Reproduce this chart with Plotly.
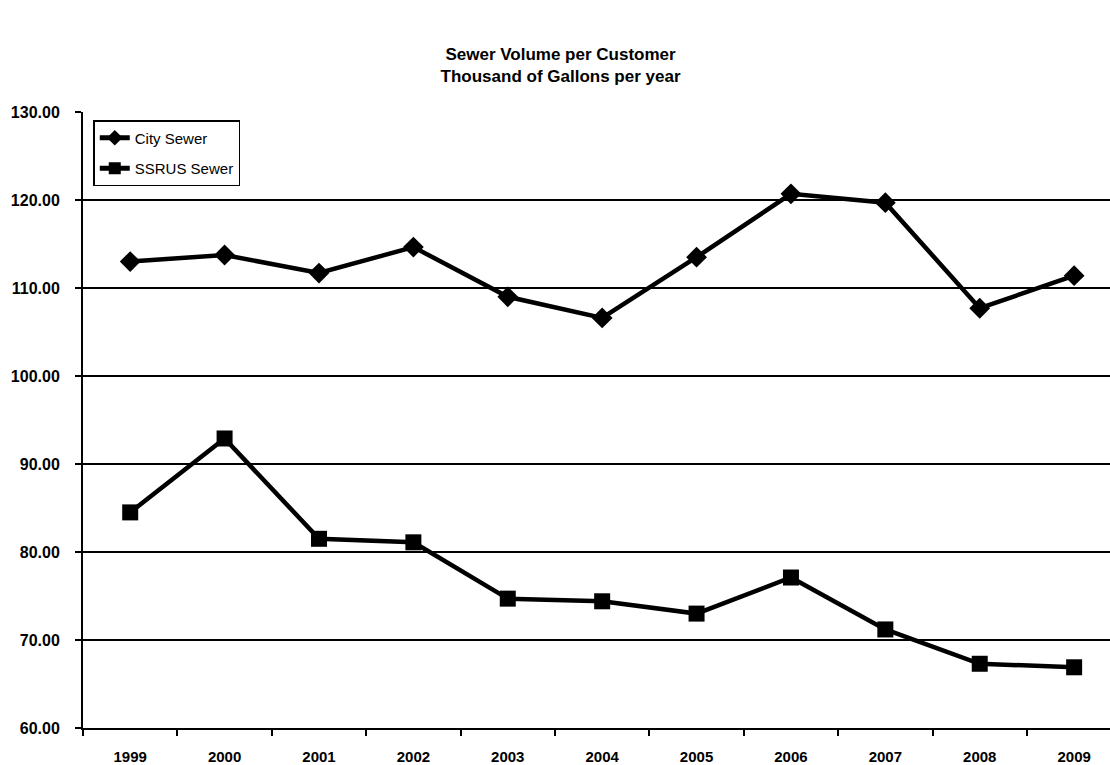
import plotly.graph_objects as go

years = ["1999", "2000", "2001", "2002", "2003", "2004", "2005", "2006", "2007", "2008", "2009"]
city_sewer = [113.0, 113.75, 111.7, 114.65, 109.0, 106.6, 113.5, 120.7, 119.7, 107.7, 111.4]
ssrus_sewer = [84.5, 92.9, 81.5, 81.1, 74.7, 74.4, 73.0, 77.1, 71.2, 67.3, 66.9]
y_ticks = [60, 70, 80, 90, 100, 110, 120, 130]

FONT = "Liberation Sans"

fig = go.Figure()
fig.add_trace(go.Scatter(
    x=years, y=city_sewer, name="City Sewer", mode="lines+markers",
    legendgroup="city",
    line=dict(color="black", width=4.5),
    marker=dict(symbol="diamond", size=16, color="black"),
))
fig.add_trace(go.Scatter(
    x=years, y=ssrus_sewer, name="SSRUS Sewer", mode="lines+markers",
    legendgroup="ssrus",
    line=dict(color="black", width=4.5),
    marker=dict(symbol="square", size=16, color="black"),
))

fig.update_layout(
    width=1110, height=765,
    paper_bgcolor="white", plot_bgcolor="white",
    margin=dict(l=83, r=0, t=112, b=37),
    title=dict(
        text="Sewer Volume per Customer<br>Thousand of Gallons per year",
        x=0.505, xanchor="center", y=0.922, yanchor="middle",
        font=dict(family=FONT, size=17, color="black", weight="bold"),
    ),
    showlegend=True,
    legend=dict(
        x=0.01, y=0.987, xanchor="left", yanchor="top",
        bordercolor="black", borderwidth=1.5, bgcolor="white",
        font=dict(family=FONT, size=15, color="black"),
        tracegroupgap=8, itemwidth=30, itemsizing="constant",
    ),
    font=dict(family=FONT, color="black"),
)

fig.update_xaxes(
    type="category", range=[-0.5, 10.38],
    showline=True, linecolor="black", linewidth=2,
    showgrid=False, zeroline=False,
    ticks="outside", tickson="boundaries", ticklen=6, tickwidth=2, tickcolor="black",
    tickfont=dict(family=FONT, size=15, color="black", weight="bold"),
    ticklabelstandoff=14,
)
fig.update_yaxes(
    range=[60, 130], tickvals=y_ticks, ticktext=[f"{v:.2f}" for v in y_ticks],
    showline=True, linecolor="black", linewidth=2,
    showgrid=True, gridcolor="black", gridwidth=1.5, zeroline=False,
    ticks="outside", ticklen=6, tickwidth=2, tickcolor="black",
    tickfont=dict(family=FONT, size=16, color="black", weight="bold"),
    ticklabelstandoff=12,
)

fig.write_html("out.html")
